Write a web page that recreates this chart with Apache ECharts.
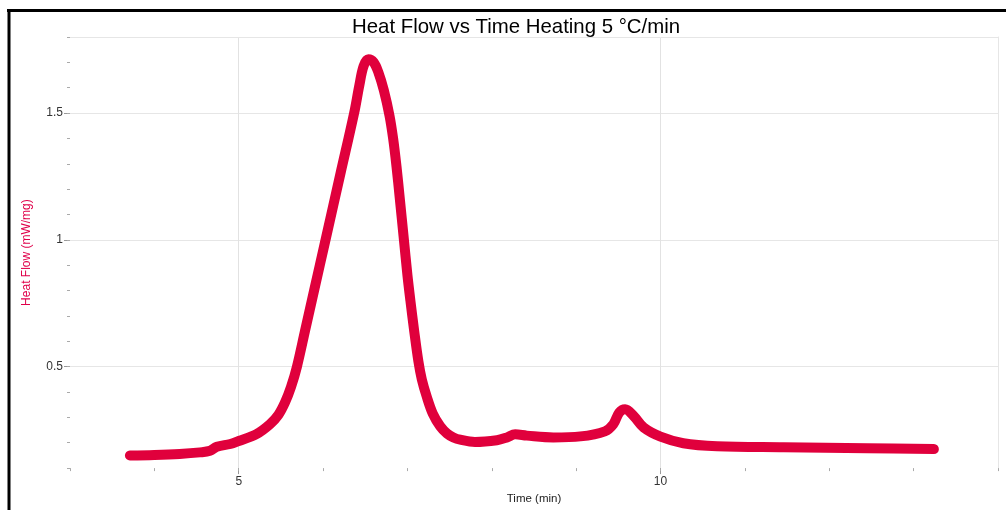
<!DOCTYPE html>
<html>
<head>
<meta charset="utf-8">
<script src="https://cdn.jsdelivr.net/npm/echarts@6/dist/echarts.min.js"></script>
<style>
html,body{margin:0;padding:0;background:#fff;}
#chart{width:1006px;height:510px;}
</style>
</head>
<body>
<div id="chart"></div>
<script>
// Data
var timeMin = [3.71, 4.0, 4.3, 4.54, 4.66, 4.74, 4.9, 5.0, 5.21, 5.37, 5.47, 5.55, 5.62, 5.69, 5.785, 5.893, 6.029, 6.207, 6.368, 6.43, 6.48, 6.537, 6.60, 6.656, 6.72, 6.787, 6.83, 6.87, 6.91, 6.955, 7.0, 7.035, 7.08, 7.13, 7.17, 7.23, 7.30, 7.388, 7.47, 7.545, 7.625, 7.8, 8.06, 8.18, 8.277, 8.415, 8.73, 9.05, 9.34, 9.44, 9.51, 9.58, 9.68, 9.8, 10.0, 10.27, 10.67, 11.46, 12.45, 13.24];
var heatFlow = [0.150, 0.152, 0.156, 0.162, 0.168, 0.184, 0.195, 0.207, 0.234, 0.273, 0.31, 0.36, 0.42, 0.50, 0.64, 0.80, 1.0, 1.263, 1.50, 1.61, 1.685, 1.712, 1.70, 1.66, 1.59, 1.49, 1.40, 1.29, 1.16, 1.01, 0.86, 0.76, 0.64, 0.52, 0.45, 0.38, 0.315, 0.265, 0.236, 0.221, 0.212, 0.203, 0.21, 0.221, 0.233, 0.228, 0.221, 0.225, 0.245, 0.273, 0.319, 0.332, 0.306, 0.26, 0.224, 0.198, 0.186, 0.182, 0.178, 0.175];
var xMajorTicks = [5, 10];
var yMajorTicks = [0.5, 1, 1.5];
var titleText = 'Heat Flow vs Time Heating 5 °C/min';
var xName = 'Time (min)';
var yName = 'Heat Flow (mW/mg)';

var pts = timeMin.map(function (t, i) { return [t, heatFlow[i]]; });
var FONT = '"Liberation Sans", Arial, sans-serif';
var chart = echarts.init(document.getElementById('chart'), null, {renderer: 'canvas'});
chart.setOption({
  animation: false,
  backgroundColor: '#fff',
  title: {
    text: titleText, left: 347, top: 12,
    textStyle: {fontFamily: FONT, fontSize: 20.4, fontWeight: 'normal', color: '#000'}
  },
  graphic: [
    {type: 'line', shape: {x1: 7, y1: 10.5, x2: 1006, y2: 10.5}, style: {stroke: '#000', lineWidth: 3}, z: 100},
    {type: 'line', shape: {x1: 9, y1: 9, x2: 9, y2: 510}, style: {stroke: '#000', lineWidth: 3}, z: 100}
  ],
  grid: {left: 70, right: 8, top: 37, bottom: 39, containLabel: false},
  xAxis: [
    {
      type: 'value', min: 3, max: 14, interval: 1, position: 'bottom',
      name: xName, nameLocation: 'middle', nameGap: 21,
      nameTextStyle: {fontFamily: FONT, fontSize: 11.5, color: '#222'},
      axisLine: {show: false},
      axisTick: {show: true, customValues: xMajorTicks, length: 6, lineStyle: {color: '#999'}},
      axisLabel: {customValues: xMajorTicks, margin: 8, fontFamily: FONT, fontSize: 12, color: '#333'},
      splitLine: {show: true, lineStyle: {color: '#e2e2e2', width: 1}}
    },
    {
      type: 'value', min: 3, max: 14, interval: 1, position: 'bottom',
      axisLine: {show: false},
      axisTick: {show: true, length: 3, lineStyle: {color: '#aaa'}},
      axisLabel: {show: false}, splitLine: {show: false}
    },
    {
      type: 'value', min: 3, max: 14, interval: 1, position: 'top',
      axisLine: {show: true, lineStyle: {color: '#e6e6e6'}},
      axisTick: {show: false}, axisLabel: {show: false}, splitLine: {show: false}
    }
  ],
  yAxis: [
    {
      type: 'value', min: 0.1, max: 1.8, interval: 0.1, position: 'left',
      name: yName, nameLocation: 'middle', nameGap: 37, nameRotate: 90,
      nameTextStyle: {fontFamily: FONT, fontSize: 12, color: '#e0004a'},
      axisLine: {show: false},
      axisTick: {show: true, customValues: yMajorTicks, length: 6, lineStyle: {color: '#999'}},
      axisLabel: {customValues: yMajorTicks, margin: 7, fontFamily: FONT, fontSize: 12, color: '#333'},
      splitLine: {show: true, lineStyle: {color: '#e6e6e6', width: 1}}
    },
    {
      type: 'value', min: 0.1, max: 1.8, interval: 0.1, position: 'left',
      axisLine: {show: false},
      axisTick: {show: true, length: 3, lineStyle: {color: '#aaa'}},
      axisLabel: {show: false}, splitLine: {show: false}
    },
    {
      type: 'value', min: 0.1, max: 1.8, interval: 0.1, position: 'right',
      axisLine: {show: true, lineStyle: {color: '#e6e6e6'}},
      axisTick: {show: false}, axisLabel: {show: false}, splitLine: {show: false}
    }
  ],
  series: [{
    type: 'line', xAxisIndex: 0, yAxisIndex: 0,
    data: pts, showSymbol: false, smooth: 0.35,
    lineStyle: {color: '#e0003c', width: 10, cap: 'round', join: 'round'},
    z: 5
  }]
});
</script>
</body>
</html>
